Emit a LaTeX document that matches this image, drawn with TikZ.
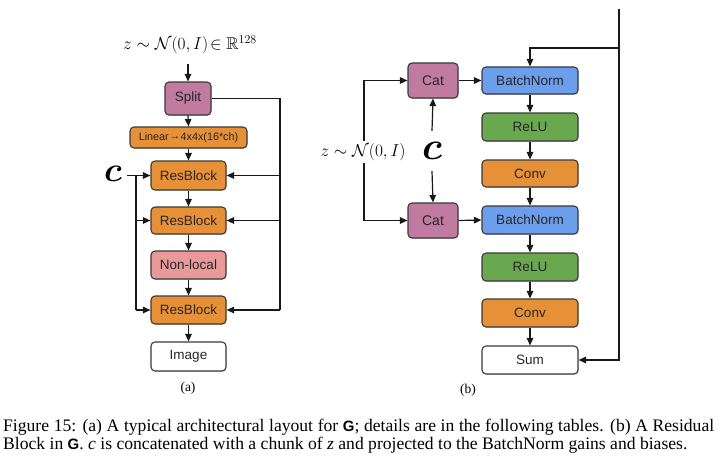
\documentclass[tikz,border=0pt]{standalone}
\usepackage{amsmath,amssymb,bm,graphicx}
\usepackage{fontspec}
\setmainfont{Liberation Serif}
\setsansfont{Liberation Sans}
\usetikzlibrary{arrows.meta,shadows}
\definecolor{cpink}{HTML}{C27BA0}
\definecolor{corange}{HTML}{E69138}
\definecolor{cnonloc}{HTML}{EA9999}
\definecolor{cblue}{HTML}{6D9EEB}
\definecolor{cgreen}{HTML}{6AA84F}
\definecolor{cborder}{HTML}{3A3A3A}
\tikzset{
  blk/.style={draw=cborder, line width=1.1pt, rounded corners=4pt, inner sep=0pt,
    font=\sffamily\fontsize{13.5}{14}\selectfont, text=black!85,
    drop shadow={shadow xshift=0.7pt, shadow yshift=-0.9pt, opacity=0.3}},
  wideblk/.style={blk, minimum width=75pt},
  rblk/.style={blk, minimum width=96pt, minimum height=28pt},
  conn/.style={line width=1.2pt, draw=black!90},
  arr/.style={conn, -{Triangle[length=7.5pt,width=6.5pt]}},
  mathlab/.style={inner sep=1pt, font=\fontsize{17}{17}\selectfont},
  caption/.style={anchor=west, inner sep=0pt, font=\fontsize{17.6}{18}\selectfont},
}
\newcommand{\sfG}{{\sffamily\bfseries\fontsize{15}{15}\selectfont G}}
\begin{document}
\begin{tikzpicture}[x=1pt,y=-1pt]
\useasboundingbox[fill=white] (0,0) rectangle (720,460);

% ---------------- (a) ----------------
\node[mathlab] (zA) at (190,45) {$z\sim\mathcal{N}(0,I)\!\in\mathbb{R}^{128}$};
\node[blk, fill=cpink, minimum width=46pt, minimum height=33pt] (split) at (188,98.5) {Split};
\node[blk, fill=corange, minimum width=117pt, minimum height=21pt, font=\sffamily\fontsize{10.8}{11}\selectfont] (lin) at (188.5,137.5) {Linear\kern0.5pt\raisebox{0.5pt}{→}\kern0.5pt4x4x(16*ch)};
\node[wideblk, fill=corange, minimum height=29pt] (rb1) at (188.5,175.5) {ResBlock};
\node[wideblk, fill=corange, minimum height=27pt] (rb2) at (188.5,220.5) {ResBlock};
\node[wideblk, fill=cnonloc, minimum height=28pt] (nl) at (188.5,265) {Non-local};
\node[wideblk, fill=corange, minimum height=28pt] (rb3) at (188.5,310) {ResBlock};
\node[wideblk, fill=white, minimum height=29pt] (img) at (188.5,356.5) {Image};
\node[inner sep=0pt, font=\fontsize{17}{17}\selectfont] (cA) at (113,174) {\scalebox{2}{$\bm{c}$}};
\node[font=\fontsize{13.5}{13.5}\selectfont] (capA) at (188,388) {(a)};

\coordinate (zAend) at (188,64);
\draw[arr] (zAend) -- (split.north);
\draw[arr] (split.south) -- (lin.north);
\draw[arr] (lin.south) -- (rb1.north);
\draw[arr] (rb1.south) -- (rb2.north);
\draw[arr] (rb2.south) -- (nl.north);
\draw[arr] (nl.south) -- (rb3.north);
\draw[arr] (rb3.south) -- (img.north);

% right bus
\coordinate (rbus1) at (280,175.5);
\coordinate (rbus2) at (280,220.5);
\coordinate (rbus3) at (280,310);
\draw[conn] (split.east) -| (rbus3);
\draw[arr] (rbus1) -- (rb1.east);
\draw[arr] (rbus2) -- (rb2.east);
\draw[arr] (rbus3) -- (rb3.east);

% left bus
\coordinate (cstart) at (127,175.5);
\coordinate (lbus1) at (136,175.5);
\coordinate (lbus2) at (136,220.5);
\coordinate (lbus3) at (136,310);
\draw[arr] (cstart) -- (rb1.west);
\draw[conn] (lbus1) -- (lbus3);
\draw[arr] (lbus2) -- (rb2.west);
\draw[arr] (lbus3) -- (rb3.west);

% ---------------- (b) ----------------
\node[blk, fill=cpink, minimum width=50pt, minimum height=35pt, font=\sffamily\fontsize{14}{14}\selectfont] (cat1) at (433,80.5) {Cat};
\node[blk, fill=cpink, minimum width=50pt, minimum height=35pt, font=\sffamily\fontsize{14}{14}\selectfont] (cat2) at (433,220.5) {Cat};
\node[rblk, fill=cblue, minimum height=27pt] (bn1) at (530,80.5) {BatchNorm};
\node[rblk, fill=cgreen] (relu1) at (530,127) {ReLU};
\node[rblk, fill=corange, minimum height=27pt] (conv1) at (530,173.5) {Conv};
\node[rblk, fill=cblue] (bn2) at (530,220) {BatchNorm};
\node[rblk, fill=cgreen] (relu2) at (530,267) {ReLU};
\node[rblk, fill=corange] (conv2) at (530,313) {Conv};
\node[rblk, fill=white] (sum) at (530,360) {Sum};
\node[font=\fontsize{13.5}{13.5}\selectfont] (capB) at (468,390) {(b)};

\draw[arr] (cat1.east) -- (bn1.west);
\draw[arr] (cat2.east) -- (bn2.west);
\draw[arr] (bn1.south) -- (relu1.north);
\draw[arr] (relu1.south) -- (conv1.north);
\draw[arr] (conv1.south) -- (bn2.north);
\draw[arr] (bn2.south) -- (relu2.north);
\draw[arr] (relu2.south) -- (conv2.north);
\draw[arr] (conv2.south) -- (sum.north);

% skip connection
\coordinate (topin) at (619,9);
\coordinate (branch) at (619,48);
\draw[arr] (topin) |- (sum.east);
\draw[arr] (branch) -| (bn1.north);

% z into cats
\coordinate (zB) at (364,152);
\draw[arr] (zB) |- (cat1.west);
\draw[arr] (zB) |- (cat2.west);
\node[mathlab, fill=white, inner sep=2pt] (zlab) at (363,152) {$z\sim\mathcal{N}(0,I)$};

% c into cats
\node[inner sep=0pt, minimum height=40pt, font=\fontsize{17}{17}\selectfont] (cB) at (432,151) {\scalebox{2.25}{$\bm{c}$}};
\draw[arr] (cB.north) -- (cat1.south);
\draw[arr] (cB.south) -- (cat2.north);

% ---------------- caption ----------------
\node[caption] (cap1) at (3,427)
  {\makebox[711pt][s]{Figure 15: (a) A typical architectural layout for \sfG; details are in the following tables. (b) A Residual}};
\node[caption] (cap2) at (3,445)
  {Block in \sfG. \textit{c} is concatenated with a chunk of \textit{z} and projected to the BatchNorm gains and biases.};
\end{tikzpicture}
\end{document}
